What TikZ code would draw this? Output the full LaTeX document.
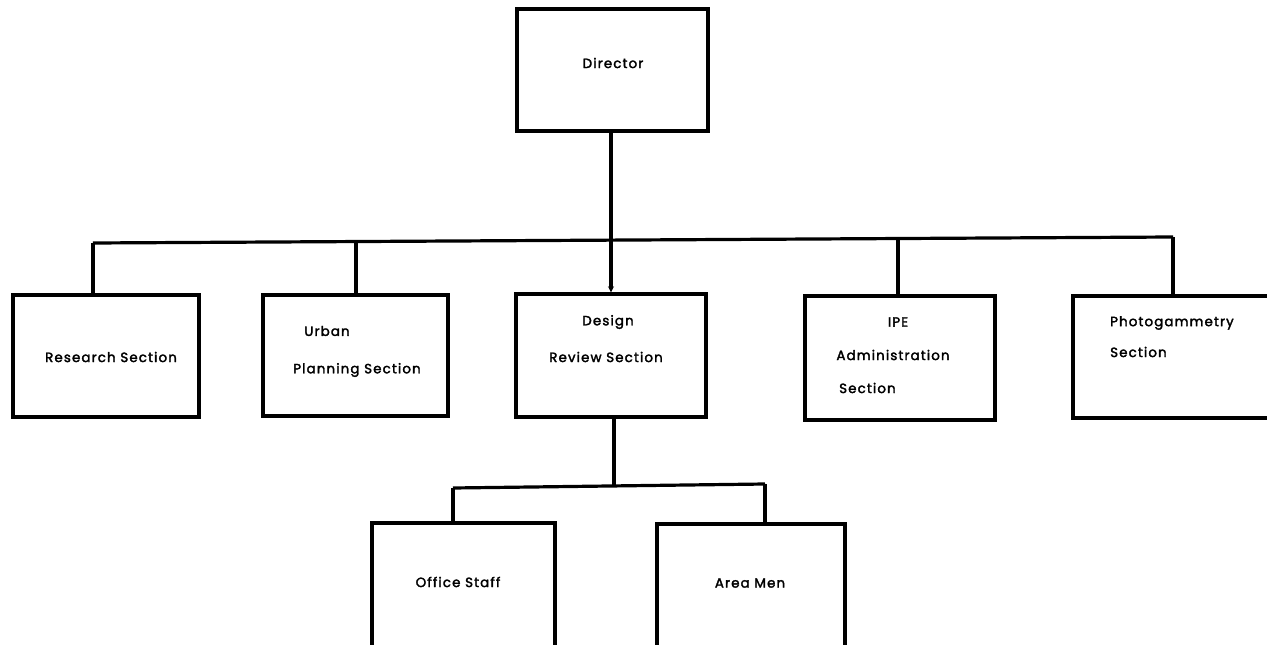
\documentclass[tikz,border=0pt]{standalone}
\usepackage{fontspec}
\setmainfont{Poppins}[LetterSpace=8.5,FakeBold=2.3]
\usetikzlibrary{arrows.meta}
\begin{document}
\begin{tikzpicture}[x=1pt,y=-1pt,
  unitbox/.style={draw,line width=3.4pt,inner sep=0pt,rectangle},
  lbl/.style={inner sep=0pt,font=\fontsize{13.4}{15}\selectfont},
  link/.style={line width=3.2pt}]
\useasboundingbox (0,0) rectangle (1267,645);
\clip (0,0) rectangle (1267,645);
% boxes of the chart
\node[unitbox,minimum width=191pt,minimum height=122pt] (dir)  at (612.5,70)   {};
\node[unitbox,minimum width=186pt,minimum height=122pt] (res)  at (106,356)    {};
\node[unitbox,minimum width=185pt,minimum height=121pt] (urb)  at (355.5,355.5){};
\node[unitbox,minimum width=190pt,minimum height=123pt] (des)  at (611,355.5)  {};
\node[unitbox,minimum width=190pt,minimum height=124pt] (ipe)  at (900,358)    {};
\node[unitbox,minimum width=217pt,minimum height=122pt] (pho)  at (1181.5,357) {};
\node[unitbox,minimum width=183pt,minimum height=142pt] (off)  at (463.5,594)  {};
\node[unitbox,minimum width=188pt,minimum height=141pt] (area) at (751,594.5)  {};
% labels
\node[lbl] (tdir) at (613,63) {Director};
\node[lbl] (tres) at (111,357) {Research Section};
\node[lbl] (turb1) at (327,331) {Urban};
\node[lbl] (turb2) at (357,370) {Planning Section};
\node[lbl] (tdes1) at (608,322) {Design};
\node[lbl] (tdes2) at (606,357) {Review Section};
\node[lbl] (tipe1) at (898,322) {IPE};
\node[lbl] (tipe2) at (893,355) {Administration};
\node[lbl,anchor=west] (tipe3) at (839,388) {Section};
\node[lbl,anchor=west] (tpho1) at (1110,323) {Photogammetry};
\node[lbl,anchor=west] (tpho2) at (1110,352) {Section};
\node[lbl] (toff) at (458,582) {Office Staff};
\node[lbl] (tarea) at (750,583) {Area Men};
% upper distribution line
\coordinate (busL) at (93,243);
\coordinate (busU) at (356,241.5);
\coordinate (busD) at (611,240);
\coordinate (busI) at (898,238.5);
\coordinate (busR) at (1173,237);
\draw[link] (busL) -- (busR);
\draw[link] (busL) -- (busL |- res.north);
\draw[link] (busU) -- (busU |- urb.north);
\draw[link] (busI) -- (busI |- ipe.north);
\draw[link] (busR) -- (busR |- pho.north);
\draw[link] (dir.south -| busD) -- (busD);
\draw[link,-{Stealth[length=6pt,width=6pt]}] (busD) -- (busD |- des.north);
% lower distribution line
\coordinate (lowTop) at (614,416);
\coordinate (lowMid) at (614,486);
\coordinate (lowL) at (453,488);
\coordinate (lowR) at (765,484);
\draw[link] (des.south -| lowTop) -- (lowMid);
\draw[link] (lowL) -- (lowR);
\draw[link] (lowL) -- (lowL |- off.north);
\draw[link] (lowR) -- (lowR |- area.north);
\end{tikzpicture}
\end{document}
